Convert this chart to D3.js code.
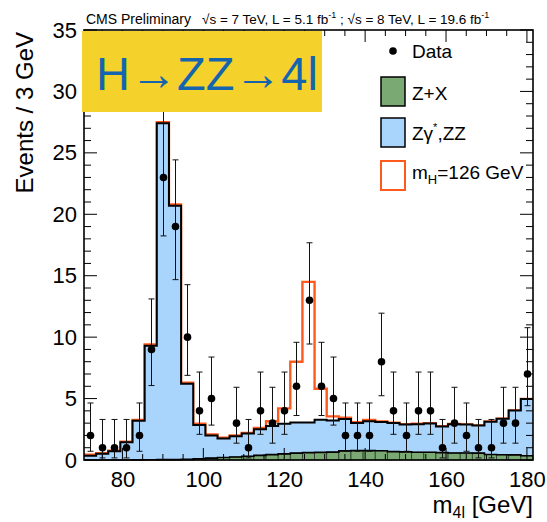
<!DOCTYPE html>
<html>
<head>
<meta charset="utf-8">
<script src="https://cdn.jsdelivr.net/npm/d3@7"></script>
<style>
  body { margin: 0; background: #ffffff; }
  svg { display: block; }
  text { font-family: "Liberation Sans", Arial, Helvetica, sans-serif; fill: #000; }
</style>
</head>
<body>
<svg id="chart" width="547" height="522"></svg>
<script>
// Four-lepton invariant mass, 3 GeV bins (bin centres in GeV)
const massBins = [72, 75, 78, 81, 84, 87, 90, 93, 96, 99, 102, 105, 108, 111, 114, 117, 120, 123, 126,
                  129, 132, 135, 138, 141, 144, 147, 150, 153, 156, 159, 162, 165, 168, 171, 174, 177, 180];

// Observed events per bin
const dataCounts = [2, 1, 1, 1, 2, 9, 23, 19, 10, 4, 5, 0, 3, 1, 4, 3, 4, 6, 13,
                    6, 5, 2, 2, 2, 8, 4, 2, 4, 4, 1, 3, 2, 1, 1, 3, 3, 7];

// Reducible background (Z+X)
const zxYield = [0, 0, 0, 0, 0.01, 0.02, 0.03, 0.03, 0.05, 0.1, 0.15, 0.2, 0.25, 0.3, 0.38, 0.44, 0.5, 0.56, 0.6,
                 0.62, 0.64, 0.74, 0.76, 0.76, 0.75, 0.68, 0.66, 0.63, 0.63, 0.6, 0.57, 0.57, 0.56, 0.45, 0.43, 0.42, 0.35];

// Irreducible background (Zgamma*, ZZ)
const zzYield = [0.35, 0.5, 0.72, 1.45, 3.19, 9.28, 27.37, 20.67, 6.15, 2.75, 1.85, 1.55, 1.68, 1.85, 2.12, 2.33, 2.45, 2.5, 2.46,
                 2.66, 2.58, 2.59, 2.26, 2.39, 2.34, 2.33, 2.22, 2.27, 2.35, 2.13, 2.35, 2.31, 2.24, 2.67, 2.92, 3.6, 4.61];

// Signal expectation for mH = 126 GeV
const higgsYield = [0.08, 0.05, 0.03, 0.03, 0.05, 0.1, 0.1, 0.1, 0.1, 0.1, 0.08, 0.07, 0.07, 0.05, 0.1, 0.38, 1.25, 4.94, 11.44,
                    2.52, 0.33, 0.12, 0.05, 0.1, 0.04, 0.03, 0.03, 0.05, 0.02, 0.02, 0.01, 0.01, 0.01, 0.01, 0.01, 0.01, 0.01];

// 68% Poisson (Garwood) intervals for the observed counts
const poissonBand = {
  1: [0.17, 3.30], 2: [0.71, 4.64], 3: [1.37, 5.92], 4: [2.09, 7.16], 5: [2.84, 8.38],
  6: [3.62, 9.58], 7: [4.42, 10.77], 8: [5.23, 11.95], 9: [6.06, 13.11], 10: [6.89, 14.27],
  13: [9.44, 17.68], 19: [14.68, 24.43], 23: [18.24, 28.86]
};

const xTickLabels = [80, 100, 120, 140, 160, 180];
const yTickLabels = [0, 5, 10, 15, 20, 25, 30, 35];
const binWidth = 3;

const colZX = "#7aa974";
const colZZ = "#a9d4fc";
const colH = "#ff5a1e";

const svg = d3.select("#chart");
const plot = { left: 84, right: 533, top: 30, bottom: 460 };

const x = d3.scaleLinear().domain([70.5, 181.5]).range([plot.left, plot.right]);
const y = d3.scaleLinear().domain([0, 35]).range([plot.bottom, plot.top]);

// stacked totals
const stackZX = zxYield;
const stackZZ = zzYield.map((v, i) => v + zxYield[i]);
const stackH = higgsYield.map((v, i) => v + stackZZ[i]);

function stepPoints(values) {
  const pts = massBins.map((m, i) => [m - binWidth / 2, values[i]]);
  pts.push([massBins[massBins.length - 1] + binWidth / 2, values[values.length - 1]]);
  return pts;
}
const stepLine = d3.line().x(d => x(d[0])).y(d => y(d[1])).curve(d3.curveStepAfter);
const stepArea = d3.area().x(d => x(d[0])).y0(y(0)).y1(d => y(d[1])).curve(d3.curveStepAfter);

const g = svg.append("g");

// signal + background outline
g.append("path")
  .attr("d", stepLine(stepPoints(stackH)))
  .attr("fill", "none").attr("stroke", colH).attr("stroke-width", 2.4);

// Zgamma*, ZZ stacked on Z+X
g.append("path")
  .attr("d", stepArea(stepPoints(stackZZ)))
  .attr("fill", colZZ).attr("stroke", "none");
g.append("path")
  .attr("d", stepLine(stepPoints(stackZZ)))
  .attr("fill", "none").attr("stroke", "#000").attr("stroke-width", 2);

// Z+X bins
g.selectAll("rect.zx").data(massBins).enter().append("rect")
  .attr("class", "zx")
  .attr("x", m => x(m - binWidth / 2))
  .attr("width", m => x(m + binWidth / 2) - x(m - binWidth / 2))
  .attr("y", (m, i) => y(stackZX[i]))
  .attr("height", (m, i) => y(0) - y(stackZX[i]))
  .attr("fill", colZX).attr("stroke", "#2a3a2a").attr("stroke-width", 0.8);
g.append("path")
  .attr("d", stepLine(stepPoints(stackZX)))
  .attr("fill", "none").attr("stroke", "#000").attr("stroke-width", 1.6);

// frame and ticks
const axes = svg.append("g");
axes.append("rect")
  .attr("x", plot.left).attr("y", plot.top)
  .attr("width", plot.right - plot.left).attr("height", plot.bottom - plot.top)
  .attr("fill", "none").attr("stroke", "#000").attr("stroke-width", 1.6);

const xMinor = d3.range(75, 181, 5);
const yMinor = d3.range(0, 36, 1);
xMinor.forEach(v => {
  const len = (v % 20 === 0) ? 12 : 6;
  axes.append("line").attr("x1", x(v)).attr("x2", x(v)).attr("y1", plot.bottom).attr("y2", plot.bottom - len)
    .attr("stroke", "#000").attr("stroke-width", 1);
  axes.append("line").attr("x1", x(v)).attr("x2", x(v)).attr("y1", plot.top).attr("y2", plot.top + len)
    .attr("stroke", "#000").attr("stroke-width", 1);
});
yMinor.forEach(v => {
  const len = (v % 5 === 0) ? 13 : 7;
  axes.append("line").attr("x1", plot.left).attr("x2", plot.left + len).attr("y1", y(v)).attr("y2", y(v))
    .attr("stroke", "#000").attr("stroke-width", 1);
  axes.append("line").attr("x1", plot.right).attr("x2", plot.right - len).attr("y1", y(v)).attr("y2", y(v))
    .attr("stroke", "#000").attr("stroke-width", 1);
});

const xAxis = d3.axisBottom(x).tickValues(xTickLabels).tickSize(0).tickPadding(8);
const xg = svg.append("g").attr("transform", `translate(0,${plot.bottom})`).call(xAxis);
xg.select(".domain").remove();
xg.selectAll("text").attr("font-size", 22).attr("dy", "0.85em")
  .style("font-family", "'Liberation Sans', Arial, Helvetica, sans-serif");

const yAxis = d3.axisLeft(y).tickValues(yTickLabels).tickSize(0).tickPadding(7);
const yg = svg.append("g").attr("transform", `translate(${plot.left},0)`).call(yAxis);
yg.select(".domain").remove();
yg.selectAll("text").attr("font-size", 22)
  .style("font-family", "'Liberation Sans', Arial, Helvetica, sans-serif");

// observed data with error bars
const pts = massBins.map((m, i) => ({ m, n: dataCounts[i] })).filter(d => d.n > 0);
const dg = svg.append("g");
pts.forEach(d => {
  const [lo, hi] = poissonBand[d.n];
  const cx = Math.round(x(d.m)) + 0.5;
  dg.append("line").attr("x1", cx).attr("x2", cx).attr("y1", y(lo)).attr("y2", y(hi))
    .attr("stroke", "#111").attr("stroke-width", 1);
  [lo, hi].forEach(v => {
    dg.append("line").attr("x1", cx - 3).attr("x2", cx + 3).attr("y1", y(v)).attr("y2", y(v))
      .attr("stroke", "#111").attr("stroke-width", 1);
  });
  dg.append("circle").attr("cx", cx).attr("cy", y(d.n)).attr("r", 3.8).attr("fill", "#000");
});

// channel banner
svg.append("rect").attr("x", 82).attr("y", 31).attr("width", 240).attr("height", 81).attr("fill", "#f5d22b");
svg.append("text").attr("x", 96).attr("y", 90).attr("font-size", 47).style("fill", "#1565ae")
  .text("H\u2192ZZ\u21924l");

// axis titles
svg.append("text")
  .attr("transform", "translate(33,32) rotate(-90)")
  .attr("text-anchor", "end").attr("font-size", 24)
  .text("Events / 3 GeV");

const xt = svg.append("text").attr("x", plot.right).attr("y", 513).attr("text-anchor", "end").attr("font-size", 24);
xt.append("tspan").text("m");
xt.append("tspan").attr("font-size", 16).attr("dy", 5).text("4l");
xt.append("tspan").attr("dy", -5).text(" [GeV]");

// header
svg.append("text").attr("x", 86).attr("y", 24).attr("font-size", 14).text("CMS Preliminary");
const hdr = svg.append("text").attr("x", 202).attr("y", 24).attr("font-size", 13.5);
hdr.append("tspan").text("\u221As = 7 TeV, L = 5.1 fb");
hdr.append("tspan").attr("font-size", 9).attr("dy", -6).text("-1");
hdr.append("tspan").attr("dy", 6).text(" ; \u221As = 8 TeV, L = 19.6 fb");
hdr.append("tspan").attr("font-size", 9).attr("dy", -6).text("-1");

// legend
const lg = svg.append("g");
lg.append("circle").attr("cx", 393).attr("cy", 51).attr("r", 3.8).attr("fill", "#000");
lg.append("text").attr("x", 412).attr("y", 58).attr("font-size", 19).text("Data");

lg.append("rect").attr("x", 381).attr("y", 77).attr("width", 24).attr("height", 29)
  .attr("fill", colZX).attr("stroke", "#000").attr("stroke-width", 1.5);
lg.append("text").attr("x", 412).attr("y", 100).attr("font-size", 19).text("Z+X");

lg.append("rect").attr("x", 381).attr("y", 118).attr("width", 24).attr("height", 29)
  .attr("fill", colZZ).attr("stroke", "#000").attr("stroke-width", 1.5);
const lz = lg.append("text").attr("x", 412).attr("y", 140).attr("font-size", 19);
lz.append("tspan").text("Z\u03B3");
lz.append("tspan").attr("font-size", 11).attr("dy", -9).text("*");
lz.append("tspan").attr("dy", 9).text(",ZZ");

lg.append("rect").attr("x", 381).attr("y", 161).attr("width", 24).attr("height", 29)
  .attr("fill", "#fff").attr("stroke", colH).attr("stroke-width", 2);
const lh = lg.append("text").attr("x", 412).attr("y", 179).attr("font-size", 19);
lh.append("tspan").text("m");
lh.append("tspan").attr("font-size", 13).attr("dy", 5).text("H");
lh.append("tspan").attr("dy", -5).text("=126 GeV");
</script>
</body>
</html>
